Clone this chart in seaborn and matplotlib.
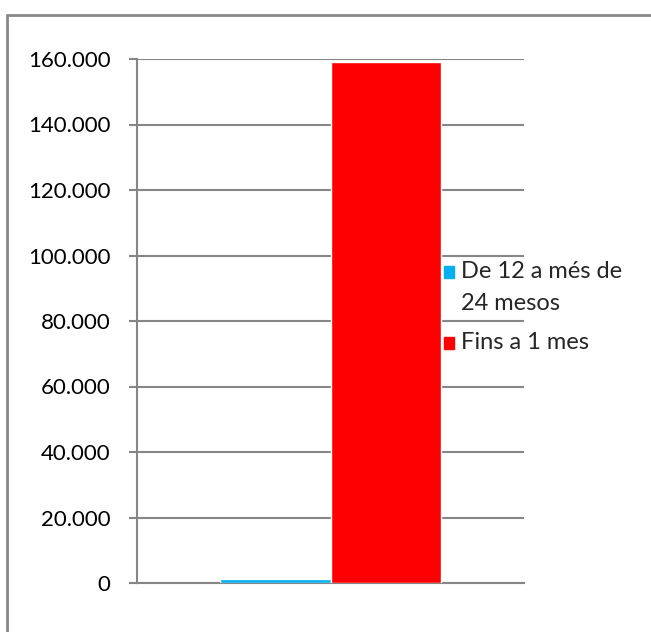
import seaborn as sns
import matplotlib.pyplot as plt
import matplotlib.patches as mpatches
import matplotlib.ticker as mticker
from matplotlib.lines import Line2D
import pandas as pd

# Data
categories = ["Total"]
series = ["De 12 a més de\n24 mesos", "Fins a 1 mes"]
values = [1100, 159200]
colors = ["#00B0F0", "#FF0000"]
yticks = [0, 20000, 40000, 60000, 80000, 100000, 120000, 140000, 160000]

df = pd.DataFrame({"cat": categories * len(series), "serie": series, "valor": values})

sns.set_style("white")
plt.rcParams['font.family'] = ['Lato', 'DejaVu Sans']

W, H = 651, 632
fig = plt.figure(figsize=(W / 100, H / 100), dpi=100)
ax = fig.add_axes([137 / W, 49 / H, (524 - 137) / W, (583 - 59) / H])

sns.barplot(data=df, x="cat", y="valor", hue="serie", palette=colors,
            saturation=1, width=0.572, legend=False, ax=ax, zorder=3)

ax.set_ylim(0, 160000)
ax.set_yticks(yticks)
ax.yaxis.set_major_formatter(mticker.FuncFormatter(lambda v, p: f"{int(v):,}".replace(",", ".")))
ax.set_xticks([])
ax.set_xlabel("")
ax.set_ylabel("")
ax.grid(axis="y", color="#868686", linewidth=1.5, zorder=0)
ax.set_axisbelow(True)

for side in ["top", "right"]:
    ax.spines[side].set_visible(False)
for side in ["left", "bottom"]:
    ax.spines[side].set_color("#868686")
    ax.spines[side].set_linewidth(1.5)

ax.tick_params(axis="y", which="major", left=True, length=6, width=1.5,
               color="#868686", pad=13, labelsize=16, labelcolor="black")

# legend, drawn by hand so the key sits on the first text line (Excel style)
baselines = [278, 349]  # pixel rows from top
for s, c, b in zip(series, colors, baselines):
    fig.add_artist(mpatches.Rectangle((444 / W, 1 - b / H), 10 / W, 12 / H,
                                      transform=fig.transFigure, color=c, zorder=6))
    for j, line in enumerate(s.split("\n")):
        fig.text(461 / W, 1 - (b + 32 * j) / H, line, fontsize=17,
                 va="baseline", ha="left", zorder=6)

# outer chart frame (top and left edges only visible)
fig.add_artist(Line2D([7 / W, 7 / W], [0, 1 - 15 / H], color="#888888", linewidth=2))
fig.add_artist(Line2D([7 / W, 1], [1 - 15 / H, 1 - 15 / H], color="#888888", linewidth=2))

fig.savefig("out.png", dpi=100)
